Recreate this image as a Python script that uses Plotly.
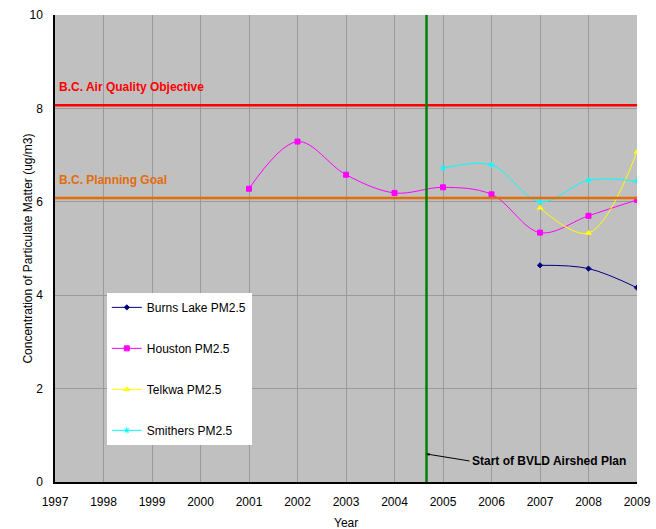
import plotly.graph_objects as go

years_all = list(range(1997, 2010))
houston_years = [2001, 2002, 2003, 2004, 2005, 2006, 2007, 2008, 2009]
houston = [6.28, 7.29, 6.58, 6.19, 6.31, 6.16, 5.34, 5.70, 6.04]
smithers_years = [2005, 2006, 2007, 2008, 2009]
smithers = [6.72, 6.79, 6.00, 6.46, 6.44]
telkwa_years = [2007, 2008, 2009]
telkwa = [5.87, 5.33, 7.07]
burns_years = [2007, 2008, 2009]
burns = [4.64, 4.57, 4.16]

objective = 8.07
planning_goal = 6.08
plan_start = 2004.66

FONT = "Liberation Sans, Arial, sans-serif"

fig = go.Figure()

series = [
    ("Burns Lake PM2.5", burns_years, burns, "#000080", "diamond", 4),
    ("Houston PM2.5", houston_years, houston, "#FF00FF", "square", 5),
    ("Telkwa PM2.5", telkwa_years, telkwa, "#FFFF00", "triangle-up", 5),
    ("Smithers PM2.5", smithers_years, smithers, "#00FFFF", "asterisk-open", 5),
]
for i, (name, xs, ys, col, sym, sz) in enumerate(series):
    fig.add_trace(go.Scatter(
        x=xs, y=ys, name=name, mode="lines+markers",
        line=dict(color=col, width=1, shape="spline", smoothing=1),
        marker=dict(color=col, symbol=sym, size=sz, line=dict(color=col, width=1)),
        legendgroup=f"g{i}",
    ))

fig.add_shape(type="line", xref="x", yref="y", x0=1997, x1=2009,
              y0=objective, y1=objective, line=dict(color="#FF0000", width=2.5))
fig.add_shape(type="line", xref="x", yref="y", x0=1997, x1=2009,
              y0=planning_goal, y1=planning_goal, line=dict(color="#E46C0A", width=2.5))
fig.add_shape(type="line", xref="x", yref="y", x0=plan_start, x1=plan_start,
              y0=0, y1=10, line=dict(color="#008000", width=2.5))

fig.add_annotation(x=1997.05, y=objective + 0.2, xref="x", yref="y",
                   text="<b>B.C. Air Quality Objective</b>", showarrow=False,
                   xanchor="left", yanchor="bottom",
                   font=dict(family=FONT, size=12, color="#FF0000"))
fig.add_annotation(x=1997.05, y=planning_goal + 0.2, xref="x", yref="y",
                   text="<b>B.C. Planning Goal</b>", showarrow=False,
                   xanchor="left", yanchor="bottom",
                   font=dict(family=FONT, size=12, color="#E46C0A"))
fig.add_annotation(x=plan_start, y=0.6, xref="x", yref="y",
                   text="<b>Start of BVLD Airshed Plan</b>", showarrow=True,
                   arrowhead=2, arrowsize=0.6, arrowwidth=1, arrowcolor="#000000",
                   ax=43, ay=7,
                   xanchor="left", yanchor="middle",
                   font=dict(family=FONT, size=12, color="#000000"))

# axis titles
fig.add_annotation(x=-0.048, y=0.5, xref="paper", yref="paper",
                   text="Concentration of Particulate Matter (ug/m3)",
                   textangle=-90, showarrow=False, xanchor="center", yanchor="middle",
                   font=dict(family=FONT, size=12, color="#000000"))
fig.add_annotation(x=0.5, y=-0.088, xref="paper", yref="paper",
                   text="Year", showarrow=False, xanchor="center", yanchor="middle",
                   font=dict(family=FONT, size=12, color="#000000"))

fig.update_layout(
    width=656, height=529,
    margin=dict(l=55, r=19, t=15, b=47, autoexpand=False),
    paper_bgcolor="#FFFFFF", plot_bgcolor="#C0C0C0",
    font=dict(family=FONT, size=12, color="#000000"),
    showlegend=True,
    legend=dict(x=0.089, y=0.405, xanchor="left", yanchor="top",
                bgcolor="#FFFFFF", bordercolor="#FFFFFF", borderwidth=0,
                tracegroupgap=22, font=dict(family=FONT, size=12),
                itemwidth=30),
    xaxis=dict(range=[1997, 2009], tickmode="array", tickvals=years_all,
               ticktext=[str(y) for y in years_all],
               showgrid=True, gridcolor="#9A9A9A", gridwidth=1,
               showline=True, linecolor="#000000", linewidth=1.5,
               ticks="outside", ticklen=8, tickcolor="rgba(0,0,0,0)",
               zeroline=False, automargin=False),
    yaxis=dict(range=[0, 10], tickvals=[0, 2, 4, 6, 8, 10],
               showgrid=True, gridcolor="#9A9A9A", gridwidth=1,
               showline=True, linecolor="#000000", linewidth=1.5,
               ticks="outside", ticklen=8, tickcolor="rgba(0,0,0,0)",
               zeroline=False, automargin=False),
)

fig.write_html(
    "out.html",
    config={"displayModeBar": False},
    post_script="document.body.style.margin='0';document.body.style.overflow='hidden';",
)
